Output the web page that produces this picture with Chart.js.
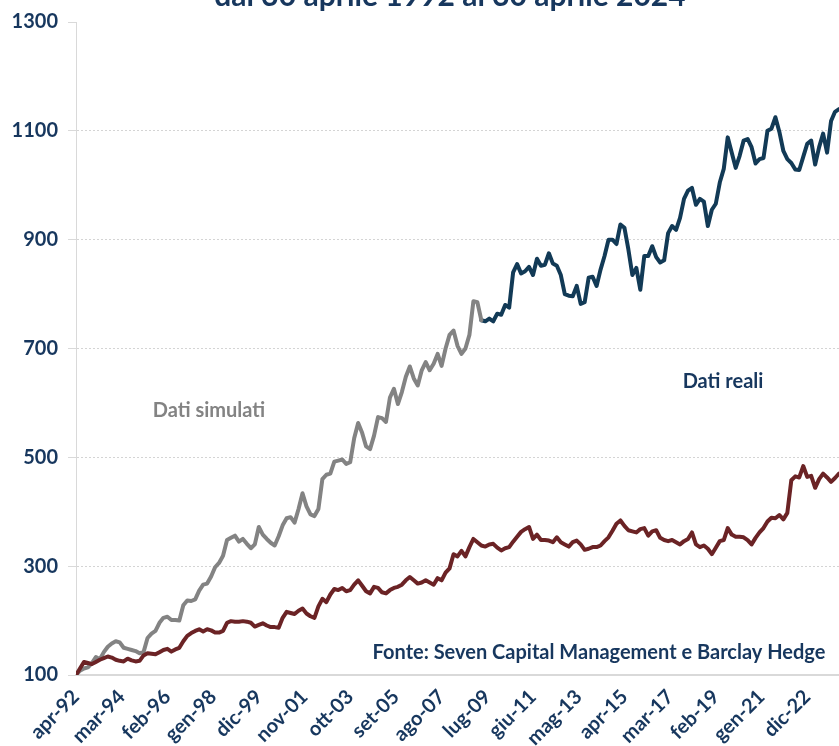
<!DOCTYPE html>
<html>
<head>
<meta charset="utf-8">
<script src="https://cdn.jsdelivr.net/npm/chart.js@4.4.1/dist/chart.umd.min.js"></script>
<style>
  body { margin: 0; background: #fff; }
  #wrap { width: 839px; height: 746px; }
</style>
</head>
<body>
<div id="wrap"><canvas id="line-chart"></canvas></div>
<script>
// tick labels every 23 months, starting apr-92
var tickLabels = ['apr-92', 'mar-94', 'feb-96', 'gen-98', 'dic-99', 'nov-01', 'ott-03', 'set-05', 'ago-07',
  'lug-09', 'giu-11', 'mag-13', 'apr-15', 'mar-17', 'feb-19', 'gen-21', 'dic-22'];
var tickStep = 23;
var lastMonth = 384;   // apr-24
var pointStep = 2;     // one reading every two months

// values (index 100 = apr-92)
var barclayHedge = [100, 112, 124, 122, 120, 124, 128, 131, 134, 132,
  128, 126, 125, 130, 127, 125, 126, 136, 140, 139,
  138, 142, 146, 148, 143, 147, 150, 162, 172, 177,
  181, 184, 180, 184, 182, 178, 178, 181, 196, 199,
  198, 198, 199, 198, 196, 189, 192, 195, 191, 188,
  188, 187, 205, 216, 214, 212, 218, 222, 213, 208,
  205, 226, 240, 234, 248, 258, 256, 260, 254, 256,
  266, 274, 264, 254, 250, 262, 260, 252, 250, 256,
  260, 262, 266, 274, 280, 274, 268, 270, 274, 270,
  266, 278, 274, 288, 296, 322, 318, 328, 318, 335,
  350, 344, 338, 336, 340, 341, 334, 329, 333, 335,
  345, 354, 363, 368, 372, 350, 358, 348, 348, 347,
  344, 353, 344, 340, 336, 344, 347, 340, 330, 332,
  335, 335, 338, 346, 353, 365, 378, 384, 374, 366,
  364, 362, 368, 370, 356, 364, 366, 352, 348, 346,
  348, 344, 340, 346, 350, 362, 340, 335, 338, 332,
  322, 334, 346, 348, 370, 358, 354, 354, 353, 348,
  340, 352, 362, 370, 382, 389, 388, 394, 386, 398,
  458, 465, 463, 484, 464, 466, 444, 460, 470, 463,
  455, 462, 470];

var simulatedStart = 0;
var datiSimulati = [100, 108, 112, 114, 122, 133, 129, 142, 152, 158,
  162, 160, 150, 148, 146, 144, 140, 142, 168, 176,
  181, 196, 205, 207, 201, 201, 200, 228, 237, 236,
  239, 255, 266, 268, 281, 298, 306, 319, 348, 352,
  356, 345, 350, 341, 333, 340, 372, 358, 350, 343,
  338, 355, 375, 388, 390, 380, 405, 434, 410, 395,
  392, 405, 460, 468, 470, 492, 494, 496, 488, 491,
  535, 563, 545, 520, 515, 540, 574, 572, 565, 610,
  626, 598, 620, 648, 667, 645, 632, 660, 675, 660,
  672, 690, 668, 700, 725, 733, 705, 690, 700, 725,
  787, 785, 752];

var realStart = 204;
var datiReali = [752, 750, 755, 750, 764, 762, 780, 775, 840, 855,
  838, 842, 850, 835, 865, 852, 854, 875, 856, 852,
  835, 800, 797, 796, 815, 782, 785, 830, 832, 815,
  845, 870, 900, 900, 892, 928, 922, 882, 835, 848,
  808, 870, 870, 888, 868, 858, 862, 912, 925, 918,
  940, 975, 990, 995, 964, 975, 970, 925, 955, 966,
  1005, 1030, 1088, 1060, 1032, 1054, 1082, 1085, 1070, 1040,
  1048, 1050, 1100, 1104, 1125, 1098, 1063, 1048, 1041, 1029,
  1028, 1052, 1076, 1082, 1038, 1070, 1095, 1060, 1118, 1135,
  1140];

var navy = '#17375e';
var grey = '#838383';
var fontFamily = 'Lato, "Liberation Sans", sans-serif';

function toPoints(values, start) {
  return values.map(function(v, i) { return { x: start + i * pointStep, y: v }; });
}

var notesPlugin = {
  id: 'notes',
  afterDraw: function(chart) {
    var ctx = chart.ctx;
    ctx.save();
    ctx.textAlign = 'center';
    ctx.textBaseline = 'alphabetic';
    ctx.fillStyle = navy;
    ctx.font = 'bold 30px ' + fontFamily;
    ctx.fillText('dal 30 aprile 1992 al 30 aprile 2024', 450, 6);

    ctx.textBaseline = 'middle';
    ctx.font = 'bold 20px ' + fontFamily;
    ctx.fillStyle = grey;
    ctx.fillText('Dati simulati', 209, 411);
    ctx.fillStyle = navy;
    ctx.fillText('Dati reali', 723, 382);
    ctx.fillText('Fonte: Seven Capital Management e Barclay Hedge', 599, 653);
    ctx.restore();
  }
};

new Chart(document.getElementById('line-chart'), {
  type: 'line',
  data: {
    datasets: [{
      label: 'Barclay Hedge',
      data: toPoints(barclayHedge, 0),
      borderColor: '#6b2325',
      borderWidth: 4,
      pointRadius: 0,
      fill: false
    }, {
      label: 'Dati simulati',
      data: toPoints(datiSimulati, simulatedStart),
      borderColor: grey,
      borderWidth: 4,
      pointRadius: 0,
      fill: false
    }, {
      label: 'Dati reali',
      data: toPoints(datiReali, realStart),
      borderColor: '#123a56',
      borderWidth: 4,
      pointRadius: 0,
      fill: false
    }]
  },
  options: {
    responsive: true,
    maintainAspectRatio: false,
    animation: false,
    layout: {
      padding: { top: 10, right: 0, left: 0, bottom: 0 }
    },
    elements: {
      line: { tension: 0, borderJoinStyle: 'round', borderCapStyle: 'round' }
    },
    plugins: {
      legend: { display: false },
      tooltip: { enabled: false }
    },
    scales: {
      x: {
        type: 'linear',
        min: 0,
        max: lastMonth,
        afterBuildTicks: function(axis) {
          axis.ticks = tickLabels.map(function(l, i) { return { value: i * tickStep }; });
        },
        afterFit: function(scale) { scale.height = 71; },
        grid: { display: false },
        border: { display: true, color: '#d9d9d9', width: 2 },
        ticks: {
          autoSkip: false,
          maxRotation: 45,
          minRotation: 45,
          padding: 2,
          color: navy,
          font: { family: fontFamily, size: 20, weight: 'bold' },
          callback: function(value) { return tickLabels[Math.round(value / tickStep)]; }
        }
      },
      y: {
        min: 100,
        max: 1300,
        afterFit: function(scale) { scale.width = 76; },
        grid: {
          color: function(c) { return c.tick && c.tick.value === 1300 ? 'rgba(0,0,0,0)' : '#d4d4d4'; },
          lineWidth: 1,
          tickLength: 8,
          tickColor: '#d9d9d9',
          tickBorderDash: []
        },
        border: { display: true, color: '#d9d9d9', width: 1, dash: [2, 2] },
        ticks: {
          stepSize: 200,
          padding: 10,
          color: navy,
          font: { family: fontFamily, size: 20, weight: 'bold' },
          callback: function(value) { return String(value); }
        }
      }
    }
  },
  plugins: [notesPlugin]
});
</script>
</body>
</html>
